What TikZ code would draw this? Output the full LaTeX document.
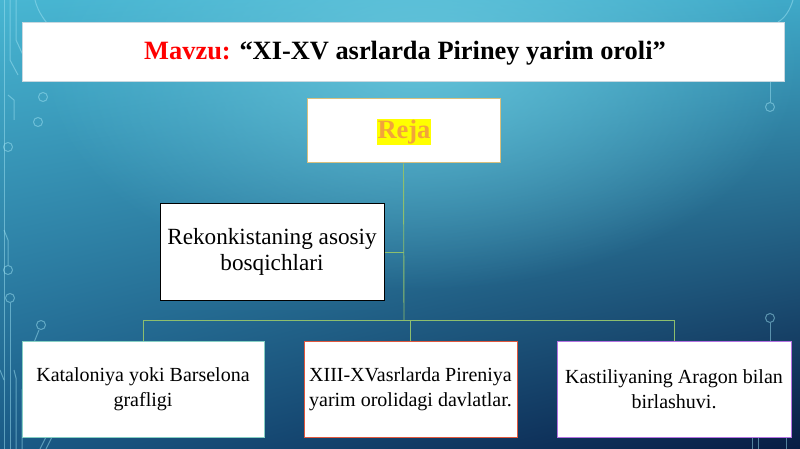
\documentclass[tikz,border=0pt]{standalone}
\usepackage{fontspec}
\setmainfont{Liberation Serif}
\usetikzlibrary{fadings,shadings}
\definecolor{bgUL}{HTML}{48B6D2}
\definecolor{bgUR}{HTML}{3FA9C8}
\definecolor{bgLL}{HTML}{1A5A86}
\definecolor{bgLR}{HTML}{081C44}
\definecolor{bgSpot}{HTML}{6CCBE0}
\definecolor{circ}{HTML}{9FE2F2}
\definecolor{conn}{HTML}{8DBE6E}
\definecolor{rejaborder}{HTML}{D8C07E}
\definecolor{rejatext}{HTML}{F2A43A}
\definecolor{hilite}{HTML}{FFFF00}
\definecolor{b1border}{HTML}{86CFC4}
\definecolor{b2border}{HTML}{E0583E}
\definecolor{b3border}{HTML}{B473E2}
\definecolor{titleborder}{HTML}{C8D8E0}
\tikzfading[name=softspot, inner color=transparent!0, outer color=transparent!100]
\tikzset{
  box/.style={draw, fill=white, line width=1pt, align=center, inner sep=4pt,
    font=\fontsize{20}{24.5}\selectfont, text=black},
  link/.style={draw=conn, line width=0.9pt},
  deco/.style={draw=circ, line width=1pt, opacity=0.5},
}
\begin{document}
\begin{tikzpicture}[x=1pt,y=-1pt]
\useasboundingbox (0,0) rectangle (800,449);
% background
\shade[upper left=bgUL, upper right=bgUR, lower left=bgLL, lower right=bgLR] (0,0) rectangle (800,449);
\fill[bgSpot, path fading=softspot, opacity=0.8] (420,60) ellipse (380 and 230);
% circuit decorations (left)
\draw[deco] (4,0) -- (4,449);
\draw[deco] (10,0) -- (10,60) -- (18,75);
\draw[deco] (16,0) -- (16,40) -- (30,70);
\draw[deco] (35,0) .. controls (40,20) and (55,30) .. (60,40);
\draw[deco] (8,95) -- (14,100) -- (14,120);
\draw[deco] (43,97) circle (4.5);
\draw[deco] (38,122) circle (4.5);
\draw[deco] (8,147) circle (4.5);
\draw[deco] (4,230) -- (8,240) -- (8,265);
\draw[deco] (8,270) circle (4.5);
\draw[deco] (10,298) circle (4.5);
\draw[deco] (10,303) -- (10,449);
\draw[deco] (41,325) circle (4.5);
\draw[deco] (39,330) -- (33,345) -- (33,370) -- (22,390) -- (22,449);
\draw[deco] (0,370) -- (4,380);
\draw[deco] (14,370) -- (16,378) -- (16,449);
\draw[deco] (40,449) -- (46,437);
\draw[deco] (46,449) -- (52,437);
% circuit decorations (right)
\draw[deco] (770,81) -- (770,102);
\draw[deco] (770,107) circle (4.5);
\draw[deco] (770,318) circle (4.5);
\draw[deco] (770,323) -- (770,341);
\draw[deco] (752,437) -- (752,449);
\draw[deco] (758,437) -- (758,449);
\draw[deco] (786,449) -- (786,437);
\draw[deco] (793,0) .. controls (790,10) and (785,18) .. (778,22);
% title
\node[draw=titleborder, fill=white, line width=0.8pt, minimum width=762pt, minimum height=59pt, inner sep=0pt] (title) at (403,51.5) {};
\node[inner sep=0pt, font=\fontsize{26.4}{30}\selectfont\bfseries] (titletext) at (405,53)
  {\textcolor{red}{Mavzu:} “XI-XV asrlarda Piriney yarim oroli”};
% Reja
\node[box, draw=rejaborder, minimum width=193pt, minimum height=64pt] (reja) at (403.5,131) {};
\node[fill=hilite, inner sep=1pt, text=rejatext, font=\fontsize{26.5}{30}\selectfont\bfseries] (rejalabel) at (404,132) {Reja};
% second level
\node[box, draw=black, minimum width=224pt, minimum height=96pt, font=\fontsize{23.2}{25.5}\selectfont] (rek) at (272,252)
  {Rekonkistaning asosiy\\bosqichlari};
% bottom
\node[box, draw=b1border, minimum width=242pt, minimum height=96pt] (b1) at (143,389)
  {Kataloniya yoki Barselona\\grafligi};
\node[box, draw=b2border, minimum width=213pt, minimum height=96pt, inner sep=1pt] (b2) at (410.5,389)
  {XIII-XVasrlarda Pireniya\\yarim orolidagi davlatlar.};
\node[box, draw=b3border, minimum width=234pt, minimum height=96pt] (b3) at (674,389)
  {Kastiliyaning Aragon bilan\\birlashuvi.};
% connectors
\coordinate (hub) at (404,320);
\draw[link] (reja.south) -- (hub);
\draw[link] (rek.east) -- (rek.east -| hub);
\draw[link] (b1.north) -- (b1.north |- hub) -- (b3.north |- hub) -- (b3.north);
\draw[link] (b2.north) -- (b2.north |- hub);
\end{tikzpicture}
\end{document}
